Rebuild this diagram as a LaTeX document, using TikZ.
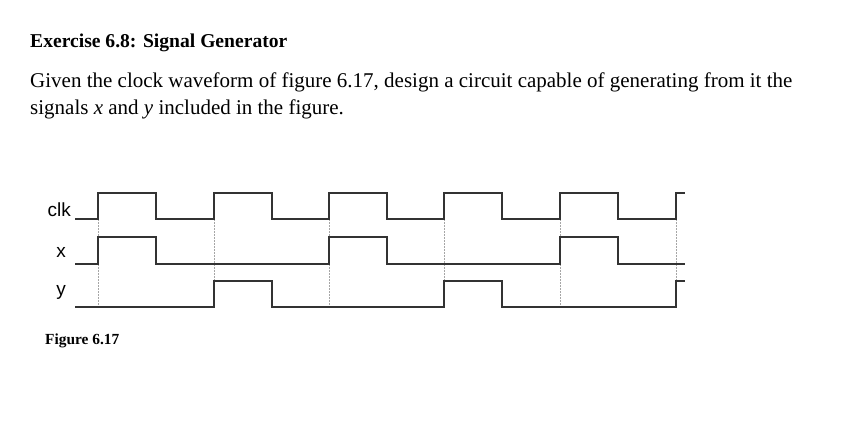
\documentclass[tikz,border=0pt]{standalone}
\usepackage{fontspec}
\setmainfont{Liberation Serif}
\setsansfont{Liberation Sans}
\usetikzlibrary{positioning}

\begin{document}
\begin{tikzpicture}[x=1pt,y=-1pt]
    \useasboundingbox (0,0) rectangle (846,427);
    \tikzset{
        wave/.style={line width=1.2pt, black!80},
        grid/.style={densely dotted, gray!70, line width=0.5pt},
        sig/.style={font=\sffamily\fontsize{19}{19}\selectfont, anchor=east}
    }
    % Heading and text
    \node[anchor=west, font=\bfseries\fontsize{19.6}{22}\selectfont, inner sep=0pt] (title) at (30,43) {Exercise 6.8: Signal Generator};
    \node[anchor=north west, align=left, font=\fontsize{21}{27}\selectfont, inner sep=0pt] (text) at (30,73)
        {Given the clock waveform of figure 6.17, design a circuit capable of generating from it the\\
         signals \textit{x} and \textit{y} included in the figure.};

    % Dotted guide lines at rising edges
    \foreach \t in {98,214,329,444,560,676}
        \draw[grid] (\t,219) -- (\t,307);

    % Clock
    \draw[wave] (75,219) -- (98,219)
        \foreach \t in {98,214,329,444,560} { -- (\t,219) -- (\t,193) -- (\t+58,193) -- (\t+58,219) } -- (676,219) -- (676,193) -- (685,193);
    % x
    \draw[wave] (75,264) -- (98,264) -- (98,237) -- (156,237) -- (156,264) -- (329,264) -- (329,237) -- (387,237) -- (387,264)
        -- (560,264) -- (560,237) -- (618,237) -- (618,264) -- (685,264);
    % y
    \draw[wave] (75,307) -- (214,307) -- (214,281) -- (272,281) -- (272,307) -- (444,307) -- (444,281) -- (502,281) -- (502,307)
        -- (676,307) -- (676,281) -- (685,281);

    % Signal names
    \node[sig, inner sep=0pt] (clk) at (71,210) {clk};
    \node[sig, inner sep=0pt] (x) at (66,252) {x};
    \node[sig, inner sep=0pt] (y) at (66,292) {y};

    % Caption
    \node[anchor=west, font=\bfseries\fontsize{15.4}{17}\selectfont, inner sep=0pt] (cap) at (45,341) {Figure 6.17};
\end{tikzpicture}
\end{document}
